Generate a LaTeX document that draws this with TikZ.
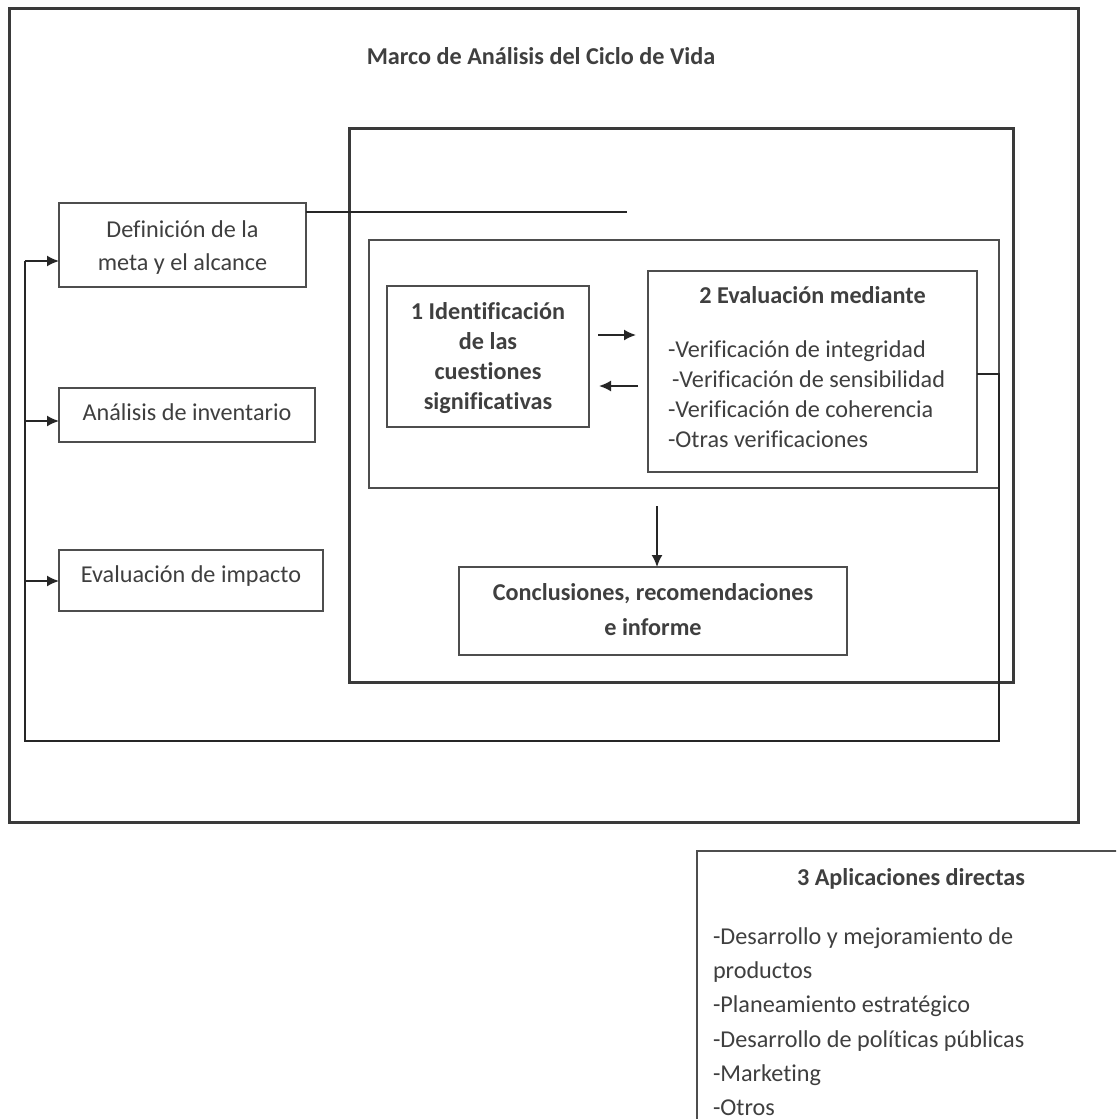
\documentclass[tikz,border=0pt]{standalone}
\usepackage{fontspec}
\setmainfont{Carlito}[Ligatures={NoCommon}]
\usetikzlibrary{fit,arrows.meta}
\definecolor{ink}{HTML}{3F3F3F}
\definecolor{framecol}{HTML}{3A3A3A}
\definecolor{edgecol}{HTML}{4E4E4E}
\begin{document}
\begin{tikzpicture}[x=0.5pt,y=-0.5pt,
  every node/.style={inner sep=0pt,outer sep=0pt},
  lbl/.style={text=ink,font=\fontsize{12.1}{15}\selectfont},
  lblb/.style={text=ink,font=\fontsize{12.1}{15}\selectfont\bfseries},
  heavy/.style={draw=framecol,line width=1.5pt},
  box/.style={draw=edgecol,line width=0.9pt},
  conn/.style={draw=black!85,line width=0.85pt},
  arr/.style={conn,-{Latex[length=6pt,width=5.5pt]}}]

\useasboundingbox (0,0) rectangle (1116,1119);
\fill[white] (0,0) rectangle (1116,1119);

% outer frame and title
\node[heavy,fit={(9,8)(1078,822)}] (outer) {};
\node[lblb,anchor=base] (title) at (541,64) {Marco de Análisis del Ciclo de Vida};

% interpretation frame and the inner check area
\node[heavy,fit={(349,128)(1013,682)}] (interp) {};
\node[box,fit={(369,240)(999,488)}] (checks) {};

% phases on the left
\node[box,fit={(59,203)(306,287)}] (def) {};
\node[lbl,anchor=base] (defA) at (182.5,237) {Definición de la};
\node[lbl,anchor=base] (defB) at (182.5,270.5) {meta y el alcance};

\node[box,fit={(59,388)(315,442)}] (inv) {};
\node[lbl,anchor=base] (invT) at (187,420) {Análisis de inventario};

\node[box,fit={(59,550)(323,611)}] (imp) {};
\node[lbl,anchor=base] (impT) at (191,582) {Evaluación de impacto};

% step 1
\node[box,fit={(387,286)(589,427)}] (b1) {};
\node[lblb,anchor=base] (b1a) at (488,319) {1 Identificación};
\node[lblb,anchor=base] (b1b) at (488,349) {de las};
\node[lblb,anchor=base] (b1c) at (488,379) {cuestiones};
\node[lblb,anchor=base] (b1d) at (488,409) {significativas};

% step 2
\node[box,fit={(648,271)(977,472)}] (b2) {};
\node[lblb,anchor=base] (b2t) at (812.5,303) {2 Evaluación mediante};
\node[lbl,anchor=base west] (b2a) at (668,357) {-Verificación de integridad};
\node[lbl,anchor=base west] (b2b) at (672,387) {-Verificación de sensibilidad};
\node[lbl,anchor=base west] (b2c) at (668,417) {-Verificación de coherencia};
\node[lbl,anchor=base west] (b2d) at (668,447) {-Otras verificaciones};

% conclusions
\node[box,fit={(459,567)(847,655)}] (conc) {};
\node[lblb,anchor=base] (concA) at (653,600) {Conclusiones, recomendaciones};
\node[lblb,anchor=base] (concB) at (653,635) {e informe};

% step 3, running off the page edge
\begin{scope}
  \clip (0,0) rectangle (1116,1119);
  \node[box,fit={(697,851)(1140,1140)}] (apps) {};
\end{scope}
\node[lblb,anchor=base] (appsT) at (911,885) {3 Aplicaciones directas};
\node[lbl,anchor=base west] (apps1) at (713,944) {-Desarrollo y mejoramiento de};
\node[lbl,anchor=base west] (apps2) at (713,978) {productos};
\node[lbl,anchor=base west] (apps3) at (713,1012.5) {-Planeamiento estratégico};
\node[lbl,anchor=base west] (apps4) at (713,1047) {-Desarrollo de políticas públicas};
\node[lbl,anchor=base west] (apps5) at (713,1081) {-Marketing};
\node[lbl,anchor=base west] (apps6) at (713,1115) {-Otros};

% connectors
\coordinate (defEnd) at (627,212);
\draw[conn] (defEnd -| def.east) -- (defEnd);

\coordinate (fwdA) at (598,335);
\coordinate (fwdB) at (636,335);
\draw[arr] (fwdA) -- (fwdB);
\coordinate (backA) at (638,386);
\coordinate (backB) at (599,386);
\draw[arr] (backA) -- (backB);

\coordinate (dn) at (657,506);
\draw[arr] (dn) -- (dn |- conc.north);

% feedback loop back to the phases
\coordinate (fbRight) at (999,374);
\coordinate (fbCorner) at (999,741);
\coordinate (fbBot) at (25,741);
\coordinate (fbTop) at (25,261);
\coordinate (fbMid) at (25,421);
\coordinate (fbLow) at (25,581);
\draw[conn] (fbRight -| b2.east) -- (fbRight) -- (fbCorner) -- (fbBot) -- (fbTop);
\draw[arr] (fbTop) -- (fbTop -| def.west);
\draw[arr] (fbMid) -- (fbMid -| inv.west);
\draw[arr] (fbLow) -- (fbLow -| imp.west);
\end{tikzpicture}
\end{document}
